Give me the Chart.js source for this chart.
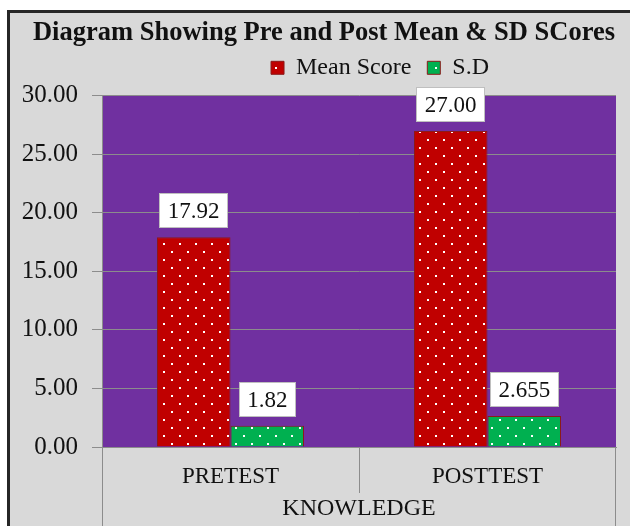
<!DOCTYPE html>
<html>
<head>
<meta charset="utf-8">
<script src="https://cdn.jsdelivr.net/npm/chart.js@4"></script>
<style>
html,body{margin:0;padding:0;background:#fff;}
#wrap{position:absolute;left:0;top:0;width:630px;height:526px;}
</style>
</head>
<body>
<div id="wrap"><canvas id="c" width="630" height="526"></canvas></div>
<script>
const categories = ["PRETEST", "POSTTEST"];
const groupTitle = "KNOWLEDGE";
const meanScore = [17.92, 27.00];
const sdScore = [1.82, 2.655];
const meanLabels = ["17.92", "27.00"];
const sdLabels = ["1.82", "2.655"];
const yTicks = [0, 5, 10, 15, 20, 25, 30];

const SERIF = "'Liberation Serif', 'Times New Roman', serif";

function dotPattern(base) {
  const t = document.createElement('canvas');
  t.width = 16; t.height = 16;
  const g = t.getContext('2d');
  g.fillStyle = base; g.fillRect(0, 0, 16, 16);
  g.fillStyle = '#ffffff';
  g.fillRect(3, 3, 2, 2);
  g.fillRect(11, 11, 2, 2);
  return g.createPattern(t, 'repeat');
}
const ctx = document.getElementById('c').getContext('2d');
const redFill = dotPattern('#c00000');
const greenFill = dotPattern('#00b050');

const frame = {
  id: 'frame',
  afterLayout(chart) {
    // place title and legend where the reference has them
    const tb = chart.titleBlock;
    if (tb) { const d = 324 - (tb.left + tb.right) / 2; tb.left += d; tb.right += d; }
    const lg = chart.legend;
    if (lg) {
      const d = 380 - (lg.left + lg.right) / 2; lg.left += d; lg.right += d;
      lg.top -= 6; lg.bottom -= 6;
      if (lg.legendHitBoxes) lg.legendHitBoxes.forEach(h => { h.left += d; h.top -= 6; });
    }
  },
  beforeDraw(chart) {
    const c = chart.ctx, a = chart.chartArea;
    c.save();
    c.fillStyle = '#ffffff';
    c.fillRect(0, 0, chart.width, chart.height);
    c.fillStyle = '#d9d9d9';
    c.fillRect(8, 10, chart.width, chart.height);
    c.fillStyle = '#262626';
    c.fillRect(7, 10, chart.width, 3);
    c.fillRect(7, 10, 3, chart.height);
    c.fillStyle = '#7030a0';
    c.fillRect(a.left, a.top, a.right - a.left, a.bottom - a.top);
    c.restore();
  },
  afterDraw(chart) {
    const c = chart.ctx, a = chart.chartArea, x = chart.scales.x;
    c.save();
    c.strokeStyle = '#8c8c8c';
    c.lineWidth = 1;
    const mid = (x.getPixelForValue(0) + x.getPixelForValue(1)) / 2;
    c.beginPath();
    c.moveTo(Math.round(a.left) + 0.5, a.bottom); c.lineTo(Math.round(a.left) + 0.5, chart.height);
    c.moveTo(Math.round(a.right) - 0.5, a.bottom); c.lineTo(Math.round(a.right) - 0.5, chart.height);
    c.moveTo(Math.round(mid) + 0.5, a.bottom); c.lineTo(Math.round(mid) + 0.5, a.bottom + 46);
    c.stroke();
    c.restore();
  }
};

const valueBoxes = {
  id: 'valueBoxes',
  afterDatasetsDraw(chart) {
    const c = chart.ctx;
    const texts = [meanLabels, sdLabels];
    c.save();
    c.font = '23px ' + SERIF;
    c.textAlign = 'center';
    c.textBaseline = 'middle';
    chart.data.datasets.forEach((ds, di) => {
      chart.getDatasetMeta(di).data.forEach((bar, i) => {
        const txt = texts[di][i];
        const w = Math.round(c.measureText(txt).width + 17);
        const h = 35;
        const bx = Math.round(bar.x - w / 2), by = Math.round(bar.y - 9 - h);
        c.fillStyle = '#ffffff';
        c.fillRect(bx, by, w, h);
        c.strokeStyle = '#bfbfbf';
        c.lineWidth = 1;
        c.strokeRect(bx + 0.5, by + 0.5, w - 1, h - 1);
        c.fillStyle = '#111111';
        c.fillText(txt, bar.x, by + h / 2 + 1);
      });
    });
    c.restore();
  }
};

new Chart(ctx, {
  type: 'bar',
  data: {
    labels: categories,
    datasets: [
      { label: 'Mean Score', data: meanScore, backgroundColor: redFill, borderColor: '#8b1a1a', borderWidth: 1, categoryPercentage: 0.572, barPercentage: 1.0 },
      { label: 'S.D', data: sdScore, backgroundColor: greenFill, borderColor: '#8b1a1a', borderWidth: 1, categoryPercentage: 0.572, barPercentage: 1.0 }
    ]
  },
  options: {
    responsive: false,
    animation: false,
    devicePixelRatio: 1,
    layout: { padding: { left: 9, right: 14, top: 10, bottom: 0 } },
    plugins: {
      title: {
        display: true,
        text: 'Diagram Showing Pre and Post Mean & SD SCores',
        font: { family: SERIF, size: 26.5, weight: 'bold' },
        color: '#111111',
        padding: { top: 7, bottom: -3 }
      },
      legend: {
        display: true,
        position: 'top',
        labels: {
          font: { family: SERIF, size: 24 },
          color: '#111111',
          boxWidth: 13,
          boxHeight: 13,
          padding: 16
        }
      },
      tooltip: { enabled: false }
    },
    scales: {
      x: {
        grid: { display: false },
        border: { display: true, color: '#8c8c8c' },
        ticks: { font: { family: SERIF, size: 23 }, color: '#111111', padding: 8 },
        title: { display: true, text: groupTitle, font: { family: SERIF, size: 24 }, color: '#111111', padding: { top: 0, bottom: 3 } },
        afterFit(s) { s.height = 79; }
      },
      y: {
        min: 0, max: 30,
        afterBuildTicks(s) { s.ticks = yTicks.map(v => ({ value: v })); },
        ticks: { font: { family: SERIF, size: 25 }, color: '#111111', padding: 14, callback: v => Number(v).toFixed(2) },
        grid: { color: '#8c8c8c', tickLength: 10 },
        border: { display: true, color: '#8c8c8c' },
        afterFit(s) { s.width = 93; }
      }
    }
  },
  plugins: [frame, valueBoxes]
});
</script>
</body>
</html>
